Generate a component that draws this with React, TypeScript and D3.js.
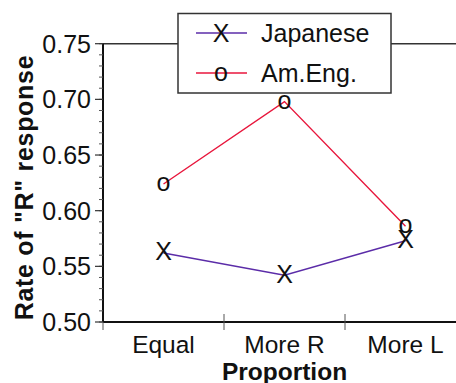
import React from 'react';
import * as d3 from 'd3';

const categories = ['Equal', 'More R', 'More L'];
const japanese = [0.562, 0.542, 0.573];
const amEng = [0.624, 0.698, 0.586];
const yTicks = [0.5, 0.55, 0.6, 0.65, 0.7, 0.75];

const series = [
  { name: 'Japanese', values: japanese, color: '#5b2ca8', marker: 'X', dy: 7.5 },
  { name: 'Am.Eng.', values: amEng, color: '#e8163c', marker: 'o', dy: 7 },
];

export default function App() {
  const width = 456, height = 383;
  const left = 103, right = 466, top = 43.7, bottom = 322;
  const font = 'Arial, "Liberation Sans", Helvetica, sans-serif';

  const x = d3.scaleBand().domain(categories).range([left, right]);
  const y = d3.scaleLinear().domain([0.5, 0.75]).range([bottom, top]);
  const minor = d3.range(0.5, 0.7501, 0.01).map(v => Math.round(v * 100) / 100);

  const line = d3.line<number>()
    .x((d, i) => (x(categories[i]) as number) + x.bandwidth() / 2)
    .y(d => y(d));

  return (
    <svg width={width} height={height} style={{ position: 'absolute', left: 0, top: 0 }} fontFamily={font}>
      {/* frame */}
      <line x1={left} x2={width} y1={top} y2={top} stroke="#333" strokeWidth={1.5} />
      <line x1={left} x2={left} y1={top} y2={bottom} stroke="#111" strokeWidth={2} />
      <line x1={left} x2={width} y1={bottom} y2={bottom} stroke="#111" strokeWidth={2} />

      {minor.map(v => (
        <line key={'m' + v} x1={left - 4} x2={left} y1={y(v)} y2={y(v)} stroke="#555" strokeWidth={1} />
      ))}
      {yTicks.map(v => (
        <g key={v}>
          <line x1={left - 8} x2={left} y1={y(v)} y2={y(v)} stroke="#333" strokeWidth={1.2} />
          <text x={left - 12} y={y(v) + 9} textAnchor="end" fontSize={25} fill="#111">{v.toFixed(2)}</text>
        </g>
      ))}

      {/* category ticks */}
      <line x1={left} x2={left} y1={bottom} y2={bottom + 8} stroke="#555" strokeWidth={1} />
      {categories.slice(1).map(c => (
        <line key={c} x1={x(c)} x2={x(c)} y1={bottom - 8} y2={bottom + 8} stroke="#555" strokeWidth={1} />
      ))}
      {categories.map(c => (
        <text key={c} x={(x(c) as number) + x.bandwidth() / 2} y={bottom + 31} textAnchor="middle" fontSize={24.5} fill="#111">{c}</text>
      ))}

      <text x={(left + right) / 2} y={380} textAnchor="middle" fontSize={24.5} fontWeight="bold" fill="#111">Proportion</text>
      <text transform="translate(33,187.5) rotate(-90)" textAnchor="middle" fontSize={25} letterSpacing={0.7} fontWeight="bold" fill="#111">Rate of "R" response</text>

      {series.map(s => (
        <g key={s.name}>
          <path d={line(s.values) || ''} fill="none" stroke={s.color} strokeWidth={1.4} />
          {s.values.map((v, i) => (
            <text key={i} x={(x(categories[i]) as number) + x.bandwidth() / 2} y={y(v) + s.dy} textAnchor="middle" fontSize={25} fill="#111">{s.marker}</text>
          ))}
        </g>
      ))}

      {/* legend */}
      <rect x={178} y={13.5} width={213} height={79.5} fill="#fff" stroke="#333" strokeWidth={1.5} />
      {series.map((s, i) => (
        <g key={s.name} transform={`translate(0,${33 + i * 40})`}>
          <line x1={196} x2={247} y1={0} y2={0} stroke={s.color} strokeWidth={1.4} />
          <text x={221} y={s.dy + 1} textAnchor="middle" fontSize={25} fill="#111">{s.marker}</text>
          <text x={261} y={8.5} fontSize={25} fill="#111">{s.name}</text>
        </g>
      ))}
    </svg>
  );
}
